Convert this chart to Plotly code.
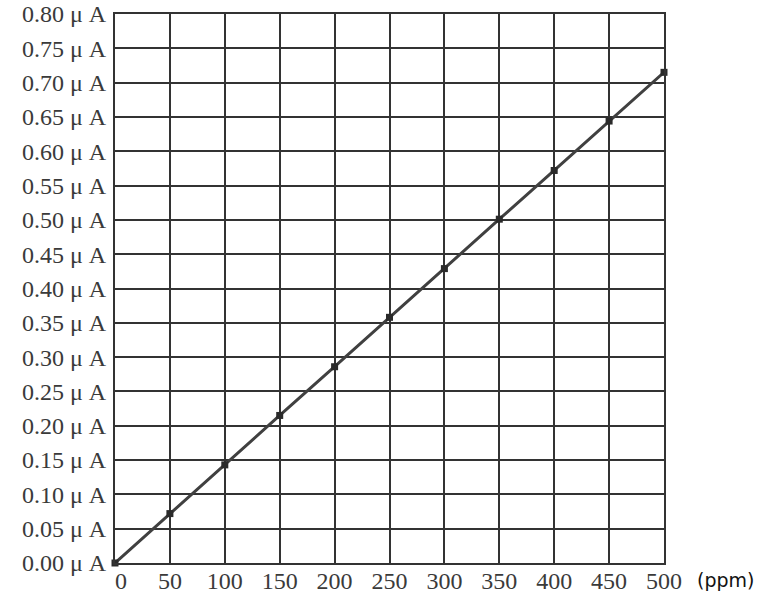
import plotly.graph_objects as go

ppm = [0, 50, 100, 150, 200, 250, 300, 350, 400, 450, 500]
current_uA = [0.0, 0.072, 0.143, 0.215, 0.286, 0.358, 0.429, 0.501, 0.572, 0.644, 0.715]
y_ticks = [round(i * 0.05, 2) for i in range(17)]
y_tick_text = [f"{v:.2f} μ A" for v in y_ticks]
x_ticks = [0, 50, 100, 150, 200, 250, 300, 350, 400, 450, 500]
x_tick_text = ["\u00a0\u00a00"] + [str(v) for v in x_ticks[1:]]

fig = go.Figure()
fig.add_trace(go.Scatter(
    x=ppm, y=current_uA, mode="lines+markers",
    line=dict(color="#404040", width=3),
    marker=dict(symbol="square", size=7, color="#2a2a2a"),
    cliponaxis=False, showlegend=False, hoverinfo="skip",
))

serif = "Liberation Serif"
fig.update_layout(
    width=764, height=599,
    margin=dict(l=115, r=100, t=14, b=36),
    paper_bgcolor="white", plot_bgcolor="white",
    xaxis=dict(range=[0, 500], tickvals=x_ticks, ticktext=x_tick_text, showgrid=True,
               gridcolor="#333333", gridwidth=2,
               showline=True, linecolor="#333333", linewidth=2, mirror=True, zeroline=False,
               ticks="", ticklabelstandoff=-5, automargin=False, ticklabeloverflow="allow",
               tickfont=dict(family=serif, size=24, color="#3a3a3a")),
    yaxis=dict(range=[0, 0.8], tickvals=y_ticks, ticktext=y_tick_text, showgrid=True,
               gridcolor="#333333", gridwidth=2,
               showline=True, linecolor="#333333", linewidth=2, mirror=True, zeroline=False,
               ticks="", ticklabelstandoff=2, automargin=False, ticklabeloverflow="allow",
               tickfont=dict(family=serif, size=24, color="#3a3a3a")),
    annotations=[dict(text="(ppm)", xref="paper", yref="paper", x=1.0, y=0, xshift=31,
                      yshift=-17, xanchor="left", yanchor="middle", showarrow=False,
                      font=dict(family="DejaVu Sans", size=19, color="#111111"))],
)
fig.write_html("out.html", config={"displayModeBar": False},
               post_script="document.body.style.margin='0';document.body.style.overflow='hidden';")
